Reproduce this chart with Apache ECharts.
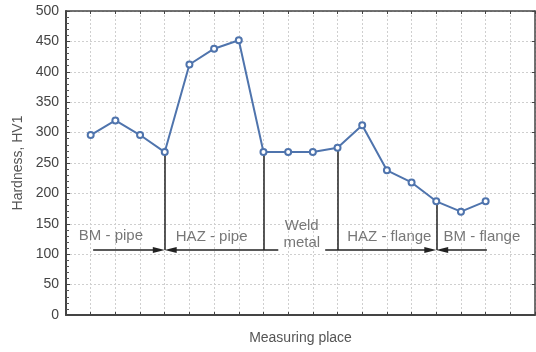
<!DOCTYPE html>
<html>
<head>
<meta charset="utf-8">
<script src="https://cdn.jsdelivr.net/npm/echarts@6/dist/echarts.min.js"></script>
<style>
  html, body { margin: 0; padding: 0; background: #fff; }
  #chart { width: 536px; height: 352px; }
</style>
</head>
<body>
<div id="chart"></div>
<script>
// measuring places 1..17 and hardness HV1
const places = [1, 2, 3, 4, 5, 6, 7, 8, 9, 10, 11, 12, 13, 14, 15, 16, 17];
const hardness = [296, 320, 296, 268, 412, 438, 452, 268, 268, 268, 275, 312, 238, 218, 187, 170, 187];

// zone boundaries (measuring place) and the zone arrow line level
const boundaries = [4, 8, 11, 15];
const zoneLevel = 107;
// arrow line pieces: [from, to, arrow at start, arrow at end]
// (arrow ends stop half an arrowhead short of the boundary)
const zoneSegments = [
  [1.1, 3.76, false, true],
  [4.24, 8.6, true, false],
  [10.5, 14.76, false, true],
  [15.24, 17.05, true, false]
];
const zoneNames = ['BM - pipe', 'HAZ - pipe', 'Weld\nmetal', 'HAZ - flange', 'BM - flange'];
const zoneLabelX = [1.82, 5.9, 9.55, 13.1, 16.85];
const zoneLabelY = [130, 128, 133, 128, 128];

const chart = echarts.init(document.getElementById('chart'));

const font = 'Liberation Sans, Arial, sans-serif';
const splitStyle = { show: true, lineStyle: { color: '#cfcfcf', type: [2, 2], width: 1 } };

const vLines = boundaries.map(b => [
  { coord: [b, hardness[places.indexOf(b)]] },
  { coord: [b, zoneLevel] }
]);
const arrowLines = zoneSegments.map(s => [
  { coord: [s[0], zoneLevel], symbol: s[2] ? 'triangle' : 'none' },
  { coord: [s[1], zoneLevel], symbol: s[3] ? 'triangle' : 'none' }
]);

const option = {
  animation: false,
  grid: { left: 66, right: 1, top: 11, bottom: 37 },
  xAxis: [
    {
      type: 'value', min: 0, max: 19, interval: 1,
      name: 'Measuring place', nameLocation: 'middle', nameGap: 16,
      nameTextStyle: { fontFamily: font, fontSize: 14, color: '#555' },
      axisLine: { show: true, onZero: false, lineStyle: { color: '#444', width: 2 } },
      axisTick: { show: true, inside: true, length: 3, lineStyle: { color: '#444' } },
      axisLabel: { show: false },
      splitLine: splitStyle
    },
    {
      type: 'value', min: 0, max: 19, interval: 1, position: 'top',
      axisLine: { show: true, onZero: false, lineStyle: { color: '#444', width: 1.5 } },
      axisTick: { show: true, inside: true, length: 3, lineStyle: { color: '#444' } },
      axisLabel: { show: false },
      splitLine: { show: false }
    }
  ],
  yAxis: [
    {
      type: 'value', min: 0, max: 500, interval: 50,
      name: 'Hardness, HV1', nameLocation: 'middle', nameGap: 38,
      nameTextStyle: { fontFamily: font, fontSize: 14, color: '#555' },
      axisLine: { show: true, onZero: false, lineStyle: { color: '#444', width: 2 } },
      axisTick: { show: true, inside: true, length: 4, lineStyle: { color: '#444' } },
      minorTick: { show: true, splitNumber: 5, length: 3, lineStyle: { color: '#555' } },
      axisLabel: { fontFamily: font, fontSize: 14, color: '#444', margin: 7 },
      splitLine: splitStyle
    },
    {
      type: 'value', min: 0, max: 500, interval: 50, position: 'right',
      axisLine: { show: true, onZero: false, lineStyle: { color: '#444', width: 1.5 } },
      axisTick: { show: true, inside: true, length: 3, lineStyle: { color: '#444' } },
      axisLabel: { show: false },
      splitLine: { show: false }
    }
  ],
  series: [
    {
      type: 'line',
      data: places.map((p, i) => [p, hardness[i]]),
      symbol: 'emptyCircle', symbolSize: 6,
      lineStyle: { color: '#4f74ad', width: 2 },
      itemStyle: { color: '#4f74ad', borderWidth: 1.5 },
      z: 5,
      markLine: {
        silent: true, symbol: 'none',
        lineStyle: { color: '#222', width: 1.5, type: 'solid' },
        label: { show: false },
        data: vLines
      }
    },
    {
      type: 'line',
      data: [],
      markLine: {
        silent: true, symbolSize: [6, 12],
        lineStyle: { color: '#222', width: 1.5, type: 'solid' },
        itemStyle: { color: '#111' },
        label: { show: false },
        data: arrowLines
      }
    },
    {
      type: 'scatter',
      symbolSize: 0,
      silent: true,
      data: zoneNames.map((n, i) => ({ value: [zoneLabelX[i], zoneLabelY[i]], name: n })),
      label: {
        show: true, position: 'inside',
        formatter: p => p.name,
        fontFamily: font, fontSize: 15, color: '#555', lineHeight: 17
      }
    }
  ]
};

chart.setOption(option);
</script>
</body>
</html>
